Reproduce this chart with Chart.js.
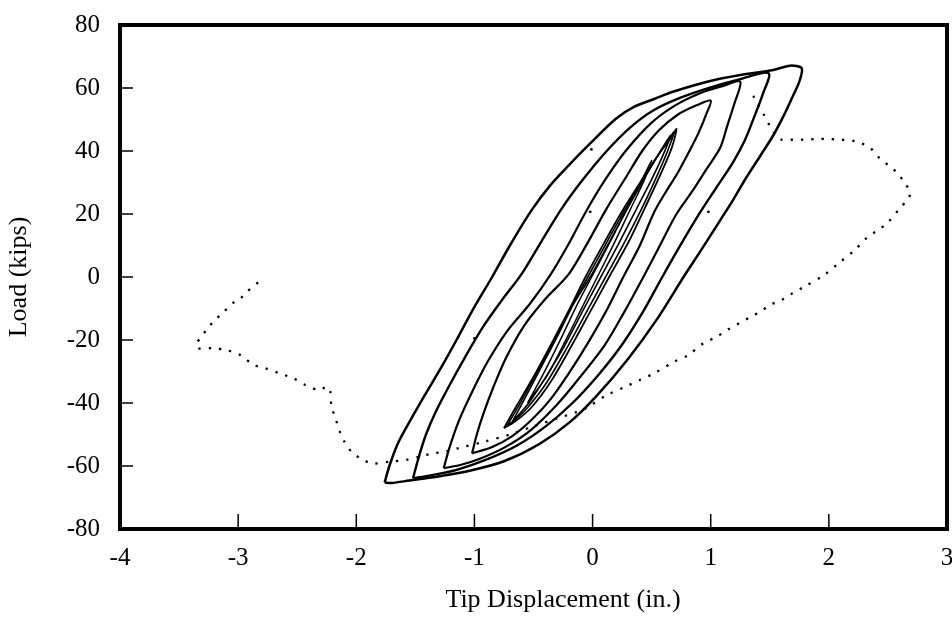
<!DOCTYPE html>
<html>
<head>
<meta charset="utf-8">
<script src="https://cdn.jsdelivr.net/npm/chart.js@4.4.1/dist/chart.umd.min.js"></script>
<style>
  body { margin: 0; background: #fff; }
</style>
</head>
<body>
<canvas id="myChart" width="952" height="622"></canvas>
<script>
// axis ticks
var xTicks = [-4, -3, -2, -1, 0, 1, 2, 3];
var yTicks = [-80, -60, -40, -20, 0, 20, 40, 60, 80];
var xTitle = 'Tip Displacement (in.)';
var yTitle = 'Load (kips)';

// hysteresis loops: [tip displacement (in.), load (kips)]
var loop5Up = [[-1.76,-65.2],[-1.72,-60],[-1.65,-53],[-1.55,-46],[-1.42,-37.5],[-1.27,-28],[-1.13,-18.5],[-1.00,-9.5],[-0.85,0],[-0.70,10],[-0.52,21],[-0.36,29],[-0.20,35.5],[-0.02,42.4],[0.20,50.3],[0.35,54],[0.52,56.5],[0.68,58.8],[0.97,62],[1.25,64.1],[1.53,65.7],[1.67,67.1],[1.77,66.3]];
var loop5Down = [[1.75,62],[1.69,57],[1.62,51.4],[1.53,45],[1.42,38.5],[1.30,31.5],[1.19,24.5],[1.08,18],[0.92,8.6],[0.77,0],[0.54,-13.7],[0.30,-26],[0.04,-37.5],[-0.19,-46],[-0.45,-53],[-0.75,-58.5],[-1.04,-61.5],[-1.32,-63.4],[-1.55,-64.6],[-1.70,-65.4],[-1.76,-65.2]];

var loop4Up = [[-1.52,-63.9],[-1.47,-57],[-1.41,-50],[-1.33,-43],[-1.22,-35],[-1.08,-25.5],[-0.93,-16],[-0.77,-7.5],[-0.60,1],[-0.43,11.5],[-0.26,21.8],[-0.08,31],[0.12,40],[0.32,47.5],[0.52,53],[0.75,57],[1.00,60.2],[1.25,62.8],[1.49,64.7]];
var loop4Down = [[1.44,58],[1.37,51],[1.29,43.5],[1.19,36.5],[1.05,28.5],[0.91,20.5],[0.75,10.5],[0.59,0],[0.42,-11.5],[0.24,-22],[0.04,-31.5],[-0.17,-40],[-0.40,-47.5],[-0.64,-53.5],[-0.90,-58],[-1.15,-61.2],[-1.35,-62.8],[-1.52,-63.9]];

var loop3Up = [[-1.26,-60.7],[-1.21,-54],[-1.13,-45.5],[-1.02,-36.5],[-0.89,-27],[-0.72,-17],[-0.53,-8.5],[-0.36,0.5],[-0.21,10],[-0.06,20.5],[0.10,30.5],[0.28,40],[0.50,49],[0.70,54.5],[0.92,58.5],[1.10,60.6],[1.25,62]];
var loop3Down = [[1.20,55],[1.14,48],[1.08,41],[0.96,34],[0.84,27],[0.71,20],[0.57,10],[0.43,0],[0.27,-11],[0.10,-21.8],[-0.10,-31.5],[-0.30,-40.5],[-0.52,-48.5],[-0.74,-54],[-0.96,-57.8],[-1.12,-59.7],[-1.26,-60.7]];

var loop2Up = [[-1.02,-56],[-0.98,-50],[-0.92,-43],[-0.84,-35],[-0.73,-25.5],[-0.58,-15.5],[-0.40,-7],[-0.20,1],[-0.04,11],[0.12,21.8],[0.28,31.5],[0.42,40],[0.56,46.5],[0.72,51.5],[0.88,54.5],[1.00,56]];
var loop2Down = [[0.96,51.5],[0.90,46],[0.82,40],[0.72,33],[0.62,27],[0.52,20.5],[0.40,10],[0.26,0],[0.12,-10.5],[-0.04,-21],[-0.20,-30.5],[-0.36,-39],[-0.52,-45.5],[-0.68,-50.5],[-0.85,-54],[-1.02,-56]];

var loop1aUp = [[-0.75,-48],[-0.66,-42],[-0.52,-33],[-0.36,-22],[-0.20,-10.5],[-0.06,0],[0.10,11],[0.26,21.5],[0.42,31],[0.56,39],[0.66,44],[0.71,47]];
var loop1aDown = [[0.67,41],[0.58,33],[0.45,22.5],[0.31,11.5],[0.14,0],[-0.02,-11],[-0.18,-22],[-0.35,-33],[-0.52,-41.5],[-0.66,-46],[-0.75,-48]];
var loop1dUp = [[-0.72,-47],[-0.62,-40.5],[-0.48,-31],[-0.33,-20.5],[-0.18,-9.5],[-0.04,0],[0.12,11],[0.28,21.8],[0.43,31],[0.56,39],[0.64,43.5],[0.69,46]];
var loop1dDown = [[0.64,40.5],[0.55,32.5],[0.42,22],[0.27,11],[0.11,0],[-0.05,-11],[-0.21,-22],[-0.38,-33],[-0.54,-41],[-0.66,-45.5],[-0.72,-47]];
var loop1bUp = [[-0.68,-46],[-0.58,-39],[-0.44,-29],[-0.30,-19],[-0.16,-8.5],[-0.02,0],[0.14,11],[0.30,22],[0.44,31.5],[0.56,39],[0.66,45]];
var loop1bDown = [[0.60,39],[0.50,31],[0.37,21.5],[0.22,10.5],[0.07,0],[-0.08,-10.5],[-0.24,-22],[-0.40,-32],[-0.54,-40],[-0.68,-46]];
var loop1cUp = [[-0.55,-40],[-0.42,-31],[-0.28,-20.5],[-0.12,-8],[0.02,2],[0.16,12],[0.30,22.5],[0.42,31],[0.50,37]];
var loop1cDown = [[0.44,31],[0.32,21.5],[0.18,10.5],[0.04,0],[-0.10,-10.5],[-0.24,-21],[-0.38,-31],[-0.55,-40]];

// dotted post-peak path
var failPath = [[1.36,57.5],[1.40,54.6],[1.45,51.5],[1.50,48],[1.56,44.6],[1.60,43.6],[1.70,43.6],[1.80,43.6],[1.90,43.8],[2.00,43.8],[2.10,43.6],[2.20,43.3],[2.27,42.5],[2.35,41],[2.43,37.7],[2.52,35],[2.58,33],[2.64,30],[2.69,26.6],[2.66,24.4],[2.59,21.3],[2.49,17],[2.40,14.5],[2.32,12.4],[2.22,8.6],[2.08,4.3],[1.96,0.6],[1.79,-3.1],[1.69,-5.2],[1.60,-7.3],[1.50,-8.9],[1.42,-11],[1.34,-12.6],[1.24,-14.7],[1.14,-16.8],[1.05,-19],[0.94,-21],[0.81,-24.8],[0.69,-26.9],[0.52,-30.6],[0.40,-32.7],[0.28,-34.8],[0.12,-37.5],[-0.05,-41.5],[-0.13,-42.8],[-0.30,-44.9],[-0.47,-47],[-0.70,-50],[-0.92,-52.3],[-1.14,-54.4],[-1.25,-55.5],[-1.35,-56],[-1.46,-57],[-1.57,-58],[-1.71,-58.6],[-1.86,-59.2],[-1.94,-58.1],[-2.04,-55.5],[-2.10,-52.3],[-2.14,-49.1],[-2.18,-44.3],[-2.21,-41.2],[-2.22,-36.4],[-2.25,-34.8],[-2.31,-35.9],[-2.43,-34.3],[-2.53,-32.2],[-2.65,-30.6],[-2.77,-29],[-2.87,-27.9],[-2.98,-24.8],[-3.10,-23.2],[-3.21,-22.6],[-3.34,-22.6],[-3.35,-21],[-3.31,-19],[-3.28,-17.4],[-3.21,-14.2],[-3.12,-11],[-3.03,-7.8],[-2.98,-6.8],[-2.94,-5.2],[-2.81,-1.0]];
var strayDots = [[0.98,20.7],[-0.02,20.7],[-1.0,-19.5],[-0.01,40.5]];

function pts(a) {
    return a.map(function (p) { return {x: p[0], y: p[1]}; });
}

function loop(up, down, w) {
    return {
        data: pts(up.concat(down)),
        showLine: true,
        borderColor: '#000',
        borderWidth: w,
        pointRadius: 0,
        tension: 0.3
    };
}

// frame, inward ticks and x title
var frame = {
    id: 'frame',
    afterDraw: function (chart) {
        var ctx = chart.ctx, a = chart.chartArea;
        var xs = chart.scales.x, ys = chart.scales.y;
        ctx.save();
        ctx.strokeStyle = '#000';
        ctx.lineWidth = 1.5;
        ctx.beginPath();
        xTicks.slice(1, -1).forEach(function (v) {
            var px = xs.getPixelForValue(v);
            ctx.moveTo(px, a.bottom);
            ctx.lineTo(px, a.bottom - 15);
        });
        yTicks.slice(1, -1).forEach(function (v) {
            var py = ys.getPixelForValue(v);
            ctx.moveTo(a.left, py);
            ctx.lineTo(a.left + 13, py);
        });
        ctx.stroke();
        ctx.lineWidth = 4;
        ctx.strokeRect(a.left, a.top, a.right - a.left, a.bottom - a.top);
        ctx.fillStyle = '#000';
        ctx.font = "26px 'Liberation Serif', 'Times New Roman', serif";
        ctx.textAlign = 'center';
        ctx.textBaseline = 'middle';
        ctx.fillText(xTitle, 563, 600);
        ctx.restore();
    }
};

Chart.defaults.font.family = "'Liberation Serif', 'Times New Roman', serif";
Chart.defaults.color = '#000';

var ctx = document.getElementById('myChart').getContext('2d');
var myChart = new Chart(ctx, {
    type: 'scatter',
    data: {
        datasets: [
            loop(loop5Up, loop5Down, 2.5),
            loop(loop4Up, loop4Down, 2.4),
            loop(loop3Up, loop3Down, 2.2),
            loop(loop2Up, loop2Down, 2.2),
            loop(loop1aUp, loop1aDown, 1.8),
            loop(loop1dUp, loop1dDown, 1.6),
            loop(loop1bUp, loop1bDown, 1.6),
            loop(loop1cUp, loop1cDown, 1.5),
            {
                data: pts(failPath),
                showLine: true,
                borderColor: '#000',
                borderWidth: 2.3,
                borderDash: [2.3, 8],
                pointRadius: 0,
                tension: 0.3
            },
            {
                data: pts(strayDots),
                pointRadius: 1.4,
                pointBackgroundColor: '#000',
                pointBorderWidth: 0
            }
        ]
    },
    options: {
        responsive: false,
        animation: false,
        layout: { padding: { top: 25, right: 5, left: 0, bottom: 0 } },
        plugins: { legend: { display: false }, tooltip: { enabled: false } },
        scales: {
            x: {
                type: 'linear',
                min: -4,
                max: 3,
                afterFit: function (s) { s.height = 93; s.paddingLeft = 0; s.paddingRight = 0; },
                afterBuildTicks: function (s) { s.ticks = xTicks.map(function (v) { return {value: v}; }); },
                grid: { display: false, drawTicks: false },
                border: { display: false },
                ticks: { font: { size: 25 }, padding: 14, maxRotation: 0 }
            },
            y: {
                min: -80,
                max: 80,
                afterFit: function (s) { s.width = 120; s.paddingTop = 0; s.paddingBottom = 0; },
                afterBuildTicks: function (s) { s.ticks = yTicks.map(function (v) { return {value: v}; }); },
                grid: { display: false, drawTicks: false },
                border: { display: false },
                ticks: { font: { size: 25 }, padding: 20 },
                title: { display: true, text: yTitle, font: { size: 26 }, padding: { top: 4, bottom: 0 } }
            }
        }
    },
    plugins: [frame]
});
</script>
</body>
</html>
